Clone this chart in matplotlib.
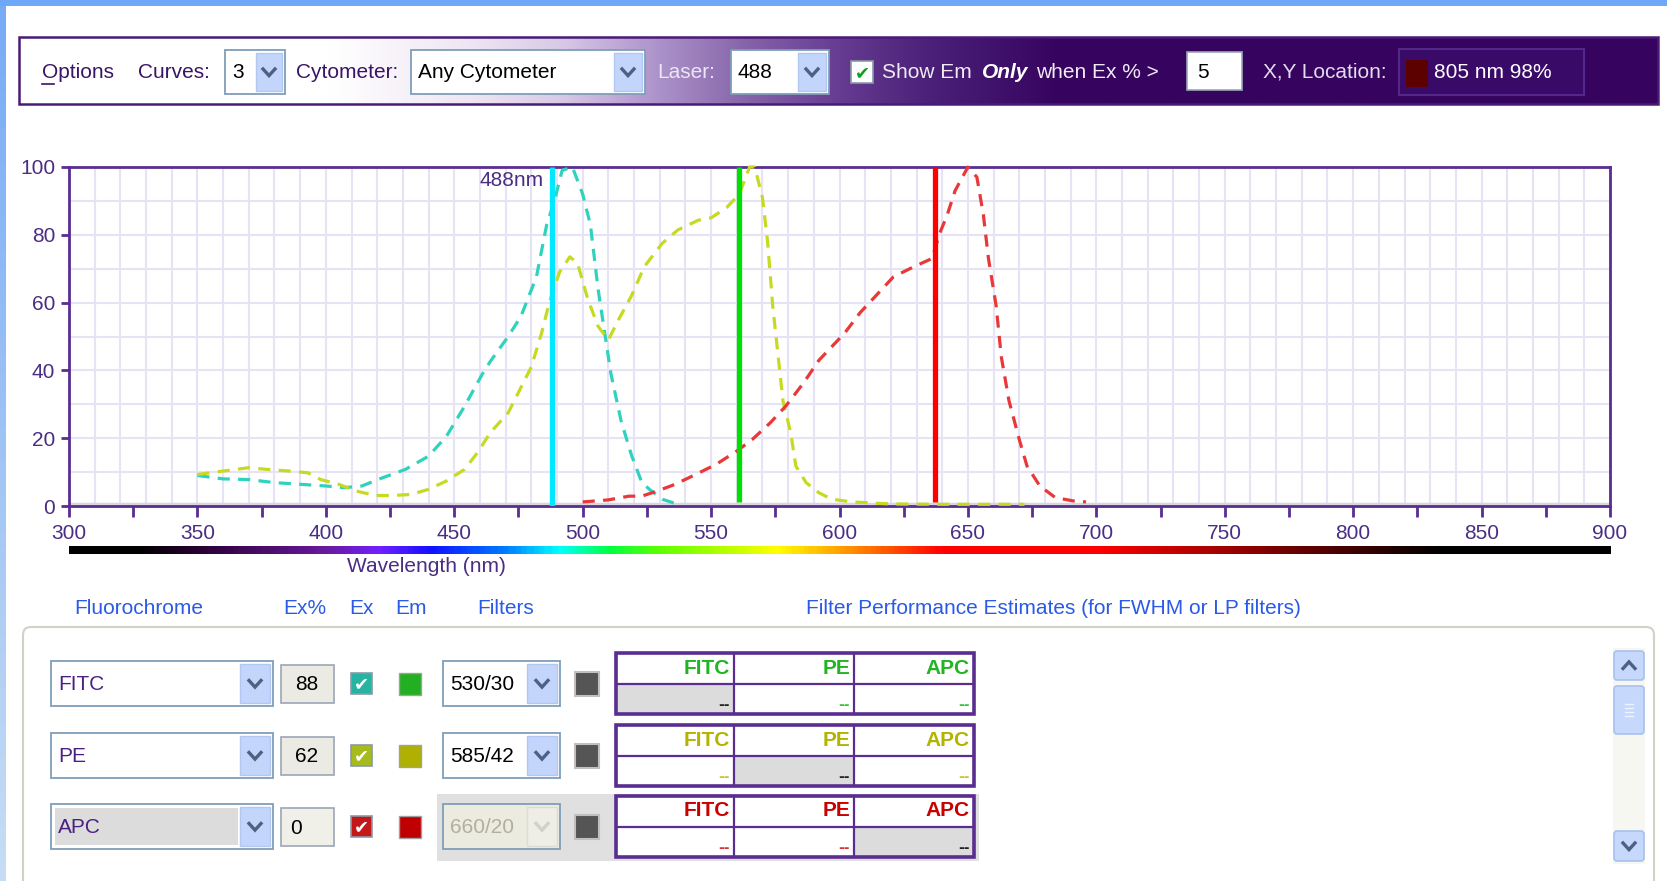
import numpy as np
import matplotlib
matplotlib.use('Agg')
import matplotlib.pyplot as plt
from matplotlib.patches import Rectangle, FancyBboxPatch
from matplotlib.colors import LinearSegmentedColormap, to_rgb
from matplotlib.ticker import MultipleLocator, FuncFormatter

plt.rcParams['font.family'] = ['Liberation Sans', 'DejaVu Sans']

W, H = 1667, 881

# excitation spectra (wavelength nm -> %)
fitc_nm = [350, 360, 370, 380, 390, 400, 407, 414, 422, 431, 440, 447, 454, 461, 464, 471, 476,
           482, 486, 489, 492, 496, 500, 503, 506, 509, 511, 515, 519, 523, 526, 531, 537]
fitc_ex = [9, 8, 7.8, 6.9, 6.4, 5.9, 5.4, 5.9, 8.3, 10.8, 14.7, 20.6, 29.4, 39, 42.6, 50, 56,
           67.6, 83, 90, 99, 100, 92, 83, 64, 49, 39, 25, 15, 7, 4.9, 2, 0.5]

pe_nm = [350, 360, 370, 377, 386, 393, 398, 405, 412, 419, 426, 433, 440, 447, 454, 459, 464,
         471, 476, 480, 484, 487, 491, 495, 498, 502, 506, 510, 514, 519, 524, 531, 537, 545,
         550, 556, 561, 565, 567, 570, 572, 574, 576, 578, 581, 583, 587, 592, 597, 605, 620,
         640, 660, 672]
pe_ex = [9.3, 10.3, 11.3, 10.8, 10.3, 9.8, 7.8, 6.4, 4.4, 3.1, 3.1, 3.4, 4.9, 7.4, 10.8, 15.7, 21.6,
         27.5, 35, 41, 51, 60, 69, 73.5, 71.6, 61, 53, 49, 55, 62, 70.6, 77.5, 81.4, 84.3,
         85, 88, 92, 100, 100, 91, 78, 59, 45, 31, 21.6, 11.8, 6.9, 3.9, 2, 1.2, 0.6,
         0.5, 0.5, 0.5]

apc_nm = [500, 510, 518, 523, 529, 536, 544, 552, 560, 566, 573, 579, 586, 592, 597, 602, 608,
          615, 621, 629, 636, 639, 642, 645, 650, 653.5, 656, 658, 661, 663, 666, 670, 673,
          678, 684, 691, 696]
apc_ex = [1.2, 1.8, 2.9, 2.9, 4.4, 6.4, 9.3, 12.3, 16.2, 19.6, 24.5, 29.4, 36.3, 43, 47, 51, 57,
          62.7, 67.6, 70.6, 73, 80.4, 86, 93, 100, 97, 86, 73, 59, 44, 31, 19.6, 11.8,
          5.9, 2.5, 1.5, 1.2]

curve_colors = ['#2fd3bd', '#c6da22', '#e83838']

lasers = [488, 561, 637]
laser_colors = ['#00e8ff', '#00e000', '#ff0000']

# table rows at the bottom
fluors = ['FITC', 'PE', 'APC']
ex_pct = ['88', '62', '0']
filters = ['530/30', '585/42', '660/20']
ex_box_colors = ['#26b4a2', '#a6bc1c', '#c41818']
em_colors = ['#22b022', '#b0b000', '#c00000']
text_colors = ['#22b422', '#b2b400', '#c80000']
dash_colors = ['#34c434', '#c8c420', '#d83030']

# spectrum bar stops
spec_nm = [300, 325, 350, 400, 420, 440, 470, 490, 510, 530, 560, 575, 600, 620, 640, 700, 750, 800, 835, 900]
spec_col = ['#000000', '#000000', '#2a0034', '#6a1aa0', '#7020ff', '#1010ff', '#0080ff', '#00ffff',
            '#00ff40', '#60ff00', '#c8ff00', '#ffff00', '#ffa000', '#ff5000', '#ff0000', '#ff0000',
            '#a00000', '#400000', '#000000', '#000000']

purple = '#5a2d90'
tick_purple = '#4b2d83'
ui_purple = '#3a1466'
link_blue = '#2a5ae6'

fig = plt.figure(figsize=(W / 100, H / 100), dpi=100)
fig.patch.set_facecolor('white')
ui = fig.add_axes([0, 0, 1, 1], zorder=0)
ui.set_axis_off()


def rect(x0, y0, x1, y1, fc, ec='none', lw=1.0, z=1):
    ui.add_patch(Rectangle((x0, y0), x1 - x0, y1 - y0, fc=fc, ec=ec, lw=lw, zorder=z))


def chevron(cx, cy, s=6, color='#4d6185', lw=2.4, up=False):
    d = -1 if up else 1
    ui.plot([cx - s, cx, cx + s], [cy - d * s * 0.5, cy + d * s * 0.6, cy - d * s * 0.5],
            color=color, lw=lw, solid_joinstyle='miter', zorder=4)


def dropdown(x0, y0, x1, y1, text, btn=30, fill='white', tcolor='black', disabled=False, inner=None):
    rect(x0, y0, x1, y1, fill, ec='#7f9db9', lw=1.3, z=2)
    if inner:
        rect(x0 + 4, y0 + 4, x1 - btn - 3, y1 - 4, inner, z=2)
    bc = '#eeeee6' if disabled else '#c3d5fb'
    rect(x1 - btn - 1, y0 + 3, x1 - 3, y1 - 3, bc, ec='#dcdcd4' if disabled else '#b2c8f2', lw=1, z=3)
    chevron(x1 - btn / 2 - 2, (y0 + y1) / 2, color='#d4d0c8' if disabled else '#4d6185')
    ui.text(x0 + 7, (y0 + y1) / 2 + 1, text, ha='left', va='center', fontsize=15, color=tcolor, zorder=4)


def checkbox(x0, y0, s, fc, check_color):
    rect(x0, y0, x0 + s, y0 + s, fc, ec='#8a9aa8', lw=1.2, z=3)
    ui.text(x0 + s / 2, y0 + s / 2 + 1, '\u2714', ha='center', va='center', fontsize=13,
            color=check_color, family='DejaVu Sans', zorder=4)


# outer blue window frame
rect(0, 0, W, 6, '#6ea8f8')
left_strip = np.linspace(0, 1, 50).reshape(-1, 1)
ui.imshow(left_strip, extent=(0, 6, H, 6), cmap=LinearSegmentedColormap.from_list('s', ['#78acf6', '#c6dcf4']),
          aspect='auto', zorder=1)

# options bar with white->purple gradient
g_x = [19, 330, 470, 560, 640, 750, 840, 930, 1060, 1658]
g_c = ['#ffffff', '#ffffff', '#eee6f3', '#d8cae6', '#b49cd0', '#8462a8', '#663c92', '#4a2078', '#36045f', '#36045f']
xs = np.linspace(19, 1658, 800)
grad = np.array([[np.interp(x, g_x, [to_rgb(c)[k] for c in g_c]) for k in range(3)] for x in xs])
ui.imshow(grad[np.newaxis, :, :], extent=(19, 1658, 104, 37), aspect='auto', zorder=1)
rect(19, 37, 1658, 104, 'none', ec='#4b1a78', lw=1.8, z=2)

ycen = 72
ui.text(42, ycen, 'Options', ha='left', va='center', fontsize=15, color=ui_purple, zorder=4)
ui.plot([42, 54], [84, 84], color=ui_purple, lw=1.2, zorder=4)
ui.text(138, ycen, 'Curves:', ha='left', va='center', fontsize=15, color=ui_purple, zorder=4)
dropdown(225, 50, 285, 94, '3', btn=28)
ui.text(296, ycen, 'Cytometer:', ha='left', va='center', fontsize=15, color=ui_purple, zorder=4)
dropdown(411, 50, 645, 94, 'Any Cytometer', btn=30)
ui.text(657, ycen, 'Laser:', ha='left', va='center', fontsize=15, color='#ece6f4', zorder=4)
dropdown(731, 50, 829, 94, '488', btn=30)
checkbox(851, 61, 22, 'white', '#10a020')
ui.text(882, ycen, 'Show Em', ha='left', va='center', fontsize=15, color='#f0eaf6', zorder=4)
ui.text(982, ycen, 'Only', ha='left', va='center', fontsize=15, color='white', weight='bold',
        style='italic', zorder=4)
ui.text(1036, ycen, 'when Ex % >', ha='left', va='center', fontsize=15, color='#f0eaf6', zorder=4)
rect(1187, 52, 1242, 90, 'white', ec='#9aa6b8', lw=1.2, z=2)
ui.text(1197, ycen, '5', ha='left', va='center', fontsize=15, color='black', zorder=4)
ui.text(1263, ycen, 'X,Y Location:', ha='left', va='center', fontsize=15, color='#e4dcee', zorder=4)
rect(1399, 49, 1584, 95, '#3a0a68', ec='#54288a', lw=1.5, z=2)
rect(1406, 60, 1428, 87, '#5c0000', z=3)
ui.text(1434, ycen + 1, '805 nm 98%', ha='left', va='center', fontsize=15, color='white', zorder=4)

# spectrum plot
ax = fig.add_axes([69 / W, 1 - 506 / H, (1610 - 69) / W, (506 - 167) / H], zorder=2)
ax.set_xlim(300, 900)
ax.set_ylim(0, 100)
ax.xaxis.set_major_locator(MultipleLocator(25))
ax.xaxis.set_minor_locator(MultipleLocator(10))
ax.yaxis.set_major_locator(MultipleLocator(20))
ax.yaxis.set_minor_locator(MultipleLocator(10))
ax.xaxis.remove_overlapping_locs = False
ax.yaxis.remove_overlapping_locs = False
ax.xaxis.set_major_formatter(FuncFormatter(lambda v, p: f'{int(v)}' if v % 50 == 0 else ''))
ax.grid(which='minor', color='#e6e3f6', lw=1.5, zorder=0)
ax.set_axisbelow(True)
ax.tick_params(which='minor', length=0)
ax.tick_params(axis='x', which='major', direction='out', length=8, width=2, color=purple,
               labelsize=15, labelcolor=tick_purple, pad=5)
ax.tick_params(axis='y', which='major', direction='out', length=6, width=2, color=purple,
               labelsize=15, labelcolor=tick_purple, pad=4)
for sp in ax.spines.values():
    sp.set_color(purple)
    sp.set_linewidth(2)
ax.axhline(0.7, color='#d6d6dc', lw=2.5, zorder=1)

for nm, ex, c in [(fitc_nm, fitc_ex, curve_colors[0]), (pe_nm, pe_ex, curve_colors[1]),
                  (apc_nm, apc_ex, curve_colors[2])]:
    ax.plot(nm, ex, color=c, lw=2.3, dashes=(3.8, 2.6), zorder=3, clip_on=False)

for i, (lz, lc) in enumerate(zip(lasers, laser_colors)):
    ax.plot([lz, lz], [0 if i == 0 else 1.2, 100], color=lc, lw=3.8, zorder=4, solid_capstyle='butt')
ax.annotate(f'{lasers[0]}nm', xy=(lasers[0], 100), xytext=(-8, -14), textcoords='offset pixels',
            ha='right', va='center', fontsize=15, color=tick_purple, zorder=5)

# wavelength colour bar
cax = fig.add_axes([69 / W, 1 - 554 / H, 1541 / W, 8 / H], zorder=2)
spec_cmap = LinearSegmentedColormap.from_list(
    'spec', [((n - 300) / 600, c) for n, c in zip(spec_nm, spec_col)])
cax.imshow(np.linspace(0, 1, 600)[np.newaxis, :], cmap=spec_cmap, aspect='auto', extent=(300, 900, 0, 1))
cax.set_axis_off()
fig.text(426 / W, 1 - 567 / H, 'Wavelength (nm)', ha='center', va='center', fontsize=15, color=tick_purple)

# lower panel
for label, x in [('Fluorochrome', 74), ('Ex%', 283), ('Ex', 349), ('Em', 395), ('Filters', 477),
                 ('Filter Performance Estimates (for FWHM or LP filters)', 806)]:
    ui.text(x, 609, label, ha='left', va='center', fontsize=15, color=link_blue, zorder=4)

ui.add_patch(FancyBboxPatch((23, 627), 1631, 300, boxstyle='round,pad=0,rounding_size=8',
                            fc='white', ec='#d4d0c8', lw=1.5, zorder=1))

row_c = [684, 756, 827]
cols = [616, 734, 854, 974]
for i, yc in enumerate(row_c):
    disabled = (i == 2)
    if disabled:
        rect(437, yc - 33, 979, yc + 34, '#e0e0e0', z=1.5)
    dropdown(51, yc - 23, 273, yc + 22, fluors[i], btn=32, tcolor='#4a2080',
             inner='#dcdcdc' if disabled else None)
    rect(281, yc - 19, 334, yc + 19, '#f0efe8' if disabled else '#ecebe3', ec='#9aa6b8', lw=1.2, z=2)
    ui.text(290 if disabled else 307, yc + 1, ex_pct[i], ha='left' if disabled else 'center',
            va='center', fontsize=15, color='black', zorder=4)
    checkbox(351, yc - 11, 21, ex_box_colors[i], 'white')
    rect(399, yc - 11, 421, yc + 11, em_colors[i], ec='#a0a0a0', lw=1, z=3)
    dropdown(443, yc - 23, 560, yc + 22, filters[i], btn=32, disabled=disabled,
             fill='#ecebdf' if disabled else 'white', tcolor='#b4ae9e' if disabled else 'black')
    rect(575, yc - 12, 599, yc + 12, '#555555', ec='#c0c0c0', lw=1.5, z=3)

    top, bot = yc - 31, yc + 30
    rect(cols[0], top, cols[-1], bot, 'white', z=1.8)
    rect(cols[i], yc, cols[i + 1], bot, '#dcdcdc', z=2)
    rect(cols[0], top, cols[-1], bot, 'none', ec=purple, lw=2.6, z=3)
    ui.plot([cols[0], cols[-1]], [yc, yc], color=purple, lw=1.6, zorder=3)
    for cx in cols[1:-1]:
        ui.plot([cx, cx], [top, bot], color=purple, lw=1.6, zorder=3)
    for j in range(3):
        ui.text(cols[j + 1] - 4, top + 15, fluors[j], ha='right', va='center', fontsize=15,
                weight='bold', color=text_colors[i], zorder=4)
        ui.text(cols[j + 1] - 4, bot - 9, '--', ha='right', va='center', fontsize=10, weight='bold',
                family='DejaVu Sans', color='#202020' if j == i else dash_colors[i], zorder=4)

# scrollbar
rect(1613, 648, 1645, 864, '#f7f7f2', z=1.5)
for y0, y1, up in [(651, 680, True), (831, 861, False)]:
    ui.add_patch(FancyBboxPatch((1614, y0), 30, y1 - y0, boxstyle='round,pad=0,rounding_size=3',
                                fc='#c6d8fc', ec='#a8c0ee', lw=1.2, zorder=2))
    chevron(1629, (y0 + y1) / 2, s=6, color='#4d6185', up=up)
ui.add_patch(FancyBboxPatch((1614, 686), 30, 48, boxstyle='round,pad=0,rounding_size=3',
                            fc='#c6d8fc', ec='#a8c0ee', lw=1.2, zorder=2))
for yy in [704, 708, 712, 716]:
    ui.plot([1625, 1633], [yy, yy], color='#eef4ff', lw=1, zorder=3)

ui.set_xlim(0, W)
ui.set_ylim(H, 0)

fig.savefig('out.png', dpi=100)
